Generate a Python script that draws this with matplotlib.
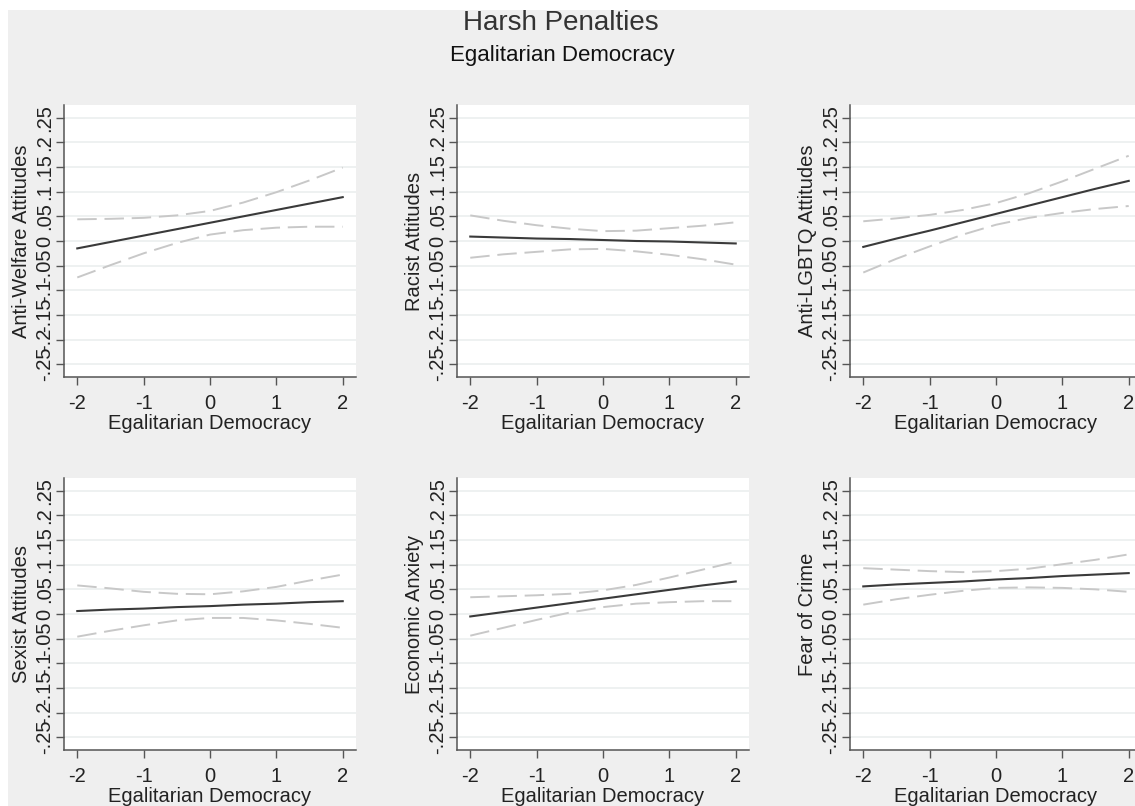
import numpy as np
import matplotlib
matplotlib.use("Agg")
import matplotlib.pyplot as plt
from matplotlib.patches import Rectangle

plt.rcParams['font.family'] = ['Liberation Sans', 'DejaVu Sans']

# x grid of the margins plot
x_vals = [-2, -1.5, -1, -0.5, 0, 0.5, 1, 1.5, 2]

panel_names = ["Anti-Welfare Attitudes", "Racist Attitudes", "Anti-LGBTQ Attitudes",
               "Sexist Attitudes", "Economic Anxiety", "Fear of Crime"]

welfare_fit = [-0.015, -0.002, 0.011, 0.024, 0.037, 0.050, 0.063, 0.076, 0.089]
welfare_hi = [0.044, 0.045, 0.047, 0.052, 0.061, 0.078, 0.099, 0.123, 0.149]
welfare_lo = [-0.074, -0.049, -0.025, -0.004, 0.013, 0.022, 0.027, 0.029, 0.029]

racist_fit = [0.009, 0.007, 0.005, 0.004, 0.002, 0.000, -0.001, -0.003, -0.005]
racist_hi = [0.052, 0.041, 0.032, 0.025, 0.020, 0.021, 0.026, 0.031, 0.038]
racist_lo = [-0.034, -0.027, -0.022, -0.017, -0.016, -0.021, -0.028, -0.037, -0.048]

lgbtq_fit = [-0.012, 0.005, 0.021, 0.038, 0.055, 0.072, 0.089, 0.106, 0.122]
lgbtq_hi = [0.040, 0.046, 0.053, 0.063, 0.077, 0.097, 0.121, 0.147, 0.173]
lgbtq_lo = [-0.064, -0.036, -0.011, 0.013, 0.033, 0.047, 0.057, 0.065, 0.071]

sexist_fit = [0.006, 0.009, 0.011, 0.014, 0.016, 0.019, 0.021, 0.024, 0.026]
sexist_hi = [0.058, 0.052, 0.045, 0.041, 0.040, 0.046, 0.055, 0.068, 0.080]
sexist_lo = [-0.046, -0.034, -0.023, -0.013, -0.008, -0.008, -0.013, -0.020, -0.028]

econ_fit = [-0.005, 0.004, 0.013, 0.022, 0.031, 0.040, 0.049, 0.058, 0.066]
econ_hi = [0.034, 0.036, 0.038, 0.041, 0.048, 0.059, 0.074, 0.090, 0.106]
econ_lo = [-0.044, -0.028, -0.012, 0.003, 0.014, 0.021, 0.024, 0.026, 0.026]

crime_fit = [0.056, 0.060, 0.063, 0.066, 0.070, 0.073, 0.077, 0.080, 0.083]
crime_hi = [0.093, 0.090, 0.087, 0.085, 0.087, 0.092, 0.101, 0.110, 0.121]
crime_lo = [0.019, 0.030, 0.039, 0.047, 0.053, 0.054, 0.053, 0.050, 0.045]

fits = [welfare_fit, racist_fit, lgbtq_fit, sexist_fit, econ_fit, crime_fit]
highs = [welfare_hi, racist_hi, lgbtq_hi, sexist_hi, econ_hi, crime_hi]
lows = [welfare_lo, racist_lo, lgbtq_lo, sexist_lo, econ_lo, crime_lo]

y_ticks = [-0.25, -0.2, -0.15, -0.1, -0.05, 0, 0.05, 0.1, 0.15, 0.2, 0.25]
y_ticklabels = ["-.25", "-.2", "-.15", "-.1", "-.05", "0", ".05", ".1", ".15", ".2", ".25"]
x_ticks = [-2, -1, 0, 1, 2]

W, H = 1135, 806
fig = plt.figure(figsize=(W / 100, H / 100), dpi=100)
fig.patch.set_facecolor("white")
fig.patches.append(Rectangle((8 / W, 0), 1, (H - 10) / H, transform=fig.transFigure,
                             facecolor="#efefef", edgecolor="none", zorder=-10))

# panel boxes in pixels: left, top
col_left = [64, 457, 850]
row_top = [105, 478]
pw, ph = 292, 272
fs = 14.5

for i in range(6):
    r, c = divmod(i, 3)
    left = col_left[c] / W
    bottom = 1 - (row_top[r] + ph) / H
    ax = fig.add_axes([left, bottom, pw / W, ph / H])
    ax.set_facecolor("white")
    for yt in y_ticks:
        ax.axhline(yt, color="#e9eded", lw=1.1, zorder=0)
    ax.plot(x_vals, highs[i], color="#c8c8c8", lw=1.4, dashes=(10, 4))
    ax.plot(x_vals, lows[i], color="#c8c8c8", lw=1.4, dashes=(10, 4))
    ax.plot(x_vals, fits[i], color="#3a3a3a", lw=1.5)
    ax.set_xlim(-2.2, 2.2)
    ax.set_ylim(-0.276, 0.276)
    ax.set_xticks(x_ticks)
    ax.set_xticklabels([str(v) for v in x_ticks], fontsize=fs)
    ax.set_yticks(y_ticks)
    ax.set_yticklabels(y_ticklabels, fontsize=fs, rotation=90, va="center")
    ax.tick_params(axis="both", length=6, width=1, color="#555555", labelcolor="#222222")
    ax.tick_params(axis="x", pad=6)
    ax.tick_params(axis="y", pad=1)
    for s in ["top", "right"]:
        ax.spines[s].set_visible(False)
    for s in ["left", "bottom"]:
        ax.spines[s].set_color("#555555")
        ax.spines[s].set_linewidth(1.1)
    ax.set_xlabel("Egalitarian Democracy", fontsize=fs, color="#222222", labelpad=1)
    ax.set_ylabel(panel_names[i], fontsize=fs, color="#222222", labelpad=3)

fig.text(561 / W, 1 - 23 / H, "Harsh Penalties", ha="center", va="center",
         fontsize=20, color="#333333")
fig.text(562 / W, 1 - 55 / H, "Egalitarian Democracy", ha="center", va="center",
         fontsize=16, color="#111111")

plt.savefig("out.png", dpi=100)
